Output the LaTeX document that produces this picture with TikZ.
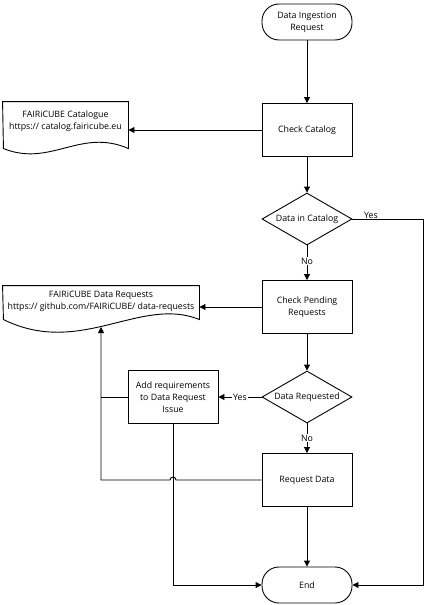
\documentclass[tikz,border=0pt]{standalone}
\usepackage{fontspec}
\setmainfont{Open Sans}
\usetikzlibrary{shapes.geometric,arrows.meta}
\begin{document}
\begin{tikzpicture}[x=1pt,y=-1pt,
  font=\fontsize{8.8}{12}\selectfont,
  line width=0.9pt,
  >={Triangle[length=6pt,width=6pt]},
  proc/.style={draw,rectangle,minimum width=90pt,minimum height=53pt,align=center,inner sep=1pt},
  term/.style={draw,rectangle,rounded corners=17pt,minimum width=90pt,minimum height=36pt,align=center,inner sep=1pt},
  dec/.style={draw,diamond,aspect=1.73,minimum width=90pt,minimum height=52pt,align=center,inner sep=0pt},
  docnode/.style={rectangle,align=center,inner sep=0pt},
  lbl/.style={fill=white,inner sep=1pt}]
\useasboundingbox (0,0) rectangle (433,605);

\node[term] (start) at (307,22) {Data Ingestion\\Request};
\node[proc] (cc) at (307,130) {Check Catalog};
\node[dec] (dic) at (307,219) {Data in Catalog};
\node[proc] (cpr) at (307,307) {Check Pending\\Requests};
\node[dec] (dr) at (307,397) {Data Requested};
\node[proc] (add) at (173,397) {Add requirements\\to Data Request\\Issue};
\node[proc] (rd) at (307,480) {Request Data};
\node[term] (end) at (307,585) {End};

\node[docnode,minimum width=125pt,minimum height=38pt] (cat) at (65.5,121)
  {FAIRiCUBE Catalogue\\https:// catalog.fairicube.eu};
\draw (cat.north west) -- (cat.north east) -- ++(0,47)
  .. controls +(-48,-21) and +(47,19) .. ++(-125,0) -- cycle;

\node[docnode,minimum width=196pt,minimum height=30pt] (dreq) at (101,301)
  {FAIRiCUBE Data Requests\\https:// github.com/FAIRiCUBE/ data-requests};
\draw (dreq.north west) -- (dreq.north east) -- ++(0,34)
  .. controls +(-59,-24) and +(77,38) .. ++(-196,0) -- cycle;
\coordinate (dreqin) at (101,327);
\coordinate (yescorner) at (423,219);

\draw[->] (start.south) -- (cc.north);
\draw[->] (cc.south) -- (dic.north);
\draw[->] (dic.south) -- node[lbl,pos=0.45]{No} (cpr.north);
\draw[->] (cpr.south) -- (dr.north);
\draw[->] (dr.west) -- node[lbl]{Yes} (add.east);
\draw[->] (dr.south) -- node[lbl,pos=0.5]{No} (rd.north);
\draw[->] (rd.south) -- (end.north);
\draw[->] (cc.west) -- (cc.west -| cat.east);
\draw[->] (cpr.west) -- (cpr.west -| dreq.east);
\draw[->] (dic.east) -- (yescorner) |- (end.east);
\node[inner sep=0pt] (yeslbl) at (371,215) {Yes};
\draw[->] (add.south) |- (end.west);
\draw (add.west) -- (dreq.south |- add.west);
\draw[->] (rd.west) -- ([xshift=3pt]add.south |- rd.west)
  arc[start angle=0,end angle=180,radius=3pt]
  -- (dreq.south |- rd.west) -- (dreqin);
\end{tikzpicture}
\end{document}
